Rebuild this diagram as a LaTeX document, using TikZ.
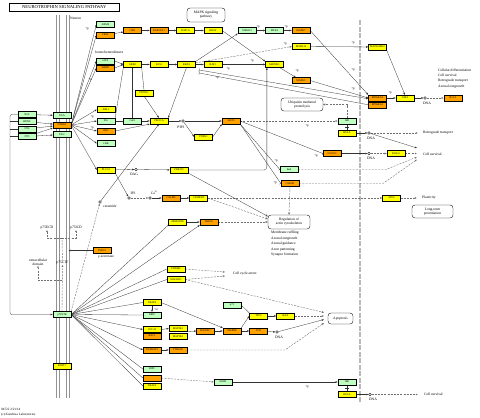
\documentclass[tikz,border=0pt]{standalone}
\usepackage{fontspec}
\setmainfont{Liberation Serif}
\usetikzlibrary{arrows.meta,calc}
\definecolor{kg}{HTML}{BFFFBF}
\definecolor{ky}{HTML}{FFFF00}
\definecolor{ko}{HTML}{FFA200}
\definecolor{kl}{HTML}{333333}
\definecolor{kd}{HTML}{707070}
\newcommand\kbf{\fontsize{2.7}{3}\selectfont}
\newcommand\klf{\fontsize{3.6}{4.1}\selectfont}
\newcommand\kpf{\fontsize{3.2}{3.6}\selectfont}
\pgfdeclarelayer{bg}
\pgfsetlayers{bg,main}
\tikzset{
 kb/.style={draw=black, line width=0.3pt, minimum width=18pt, minimum height=5.8pt, inner sep=0pt, font=\kbf},
 gb/.style={kb, fill=kg},
 yb/.style={kb, fill=ky},
 ob/.style={kb, fill=ko},
 ln/.style={draw=kl, line width=0.3pt},
 ar/.style={ln, -{Latex[length=2.2pt,width=1.8pt]}},
 ds/.style={draw=kd, line width=0.4pt, dash pattern=on 2pt off 1.2pt},
 dar/.style={ds, -{Latex[length=2.2pt,width=1.8pt]}},
 oar/.style={-{Triangle[open,length=2.2pt,width=2pt]}},
 tb/.style={ln, -{Bar[width=3pt]}},
 cir/.style={circle, draw=black, line width=0.3pt, fill=white, minimum size=2.8pt, inner sep=0pt},
 rb/.style={draw=black, line width=0.35pt, rounded corners=3pt, align=center, font=\klf, inner sep=0.5pt},
 lab/.style={font=\klf, inner sep=0pt, align=left},
 pp/.style={font=\kpf, inner sep=0pt},
}
\begin{document}
\begin{tikzpicture}[x=1pt,y=-1pt]
\useasboundingbox (0,0) rectangle (480,418);

% ---------------- title & labels
\node[draw, line width=0.4pt, minimum width=110pt, minimum height=8pt, inner sep=0pt, font=\fontsize{4.6}{5}\selectfont] (title) at (64.3,6.7) {NEUROTROPHIN SIGNALING PATHWAY};
\node[lab, anchor=west] (neuron) at (70,18) {Neuron};
\node[lab, anchor=west] (homo) at (95,52) {homo/heterodimers};

% ---------------- nodes
\node[gb] (NGF) at (27,114.5) {NGF};
\node[gb] (BDNF) at (27,121.5) {BDNF};
\node[gb] (NT4) at (27,129) {NT4};
\node[gb] (NT3) at (27,136.5) {NT3};
\node[gb] (TrkA) at (62,115.5) {TrkA};
\node[ob] (NTRK2) at (62,125) {NTRK2};
\node[gb] (TrkC) at (62,134.5) {TrkC};
\node[gb] (p75NTR) at (62,314.5) {p75NTR};
\node[yb] (SORT1) at (62,366) {SORT1};

\node[gb] (ARMS) at (105.5,24.5) {ARMS};
\node[ob] (FRS2) at (105.5,35) {FRS2};
\node[ob] (CRK) at (132.5,30.5) {CRK};
\node[ob] (RAPGEF1) at (159,30.5) {RAPGEF1};
\node[yb] (RAP1A) at (185.5,30.5) {RAP1A};
\node[yb] (BRAF) at (213,30.5) {BRAF};
\node[gb] (MEKK3) at (247,30.5) {MEKK3};
\node[gb] (MEK5) at (274.5,30.5) {MEK5};
\node[ob] (MAPK7) at (301,30.5) {MAPK7};
\node[yb] (MAPK14) at (301,46.5) {MAPK14};
\node[yb] (MAPKAPK2) at (377.5,47) {MAPKAPK2};
\node[gb] (rAPS) at (105.5,61) {rAPS};
\node[ob] (SH2B1) at (105.5,68) {SH2B1};
\node[yb] (GRB2) at (132.5,64.5) {GRB2};
\node[yb] (SOS1) at (159,64.5) {SOS1};
\node[yb] (KRAS) at (186.5,64.5) {KRAS};
\node[yb] (RAF1) at (213,64.5) {RAF1};
\node[yb] (MAP2K1) at (274.5,64.5) {MAP2K1};
\node[ob] (MAPK3) at (301,80.5) {MAPK3};
\node[ob] (RSKa) at (377.5,98) {RPS6KA3};
\node[ob] (RSKb) at (377.5,104.8) {RPS6KA1};
\node[yb] (ATF4a) at (405,98) {ATF4};
\node[cir] (DNA1) at (425,98) {};
\node[ob] (BCL2) at (453,98) {BCL2};

\node[yb] (PTPN11) at (144,93) {PTPN11};
\node[yb] (ABL1) at (106,109.5) {ABL1};
\node[gb] (Shc) at (106,121) {Shc};
\node[gb] (Gab1) at (132.5,121) {Gab1};
\node[yb] (PIK3CA) at (159,121) {PIK3CA};
\node[cir] (PIP3) at (183,121) {};
\node[ob] (AKT3) at (231,121) {AKT3};
\node[yb] (PDPK1) at (203.5,137) {PDPK1};
\node[ob] (IRS1) at (106,131) {IRS1};
\node[gb] (CHK) at (106,143.5) {CHK};
\node[yb] (PLCG1) at (106,170) {PLCG1};
\node[cir] (DAG) at (136,169.5) {};
\node[yb] (PRKCD) at (179,170) {PRKCD};
\node[gb] (IkB) at (347,121) {IkB};
\node[yb] (RELA) at (347,133) {RELA};
\node[cir] (DNA2) at (369,133) {};
\node[ob] (FOXO3) at (332,153.5) {FOXO3};
\node[cir] (DNA3) at (369,153.5) {};
\node[yb] (FASLG) at (396,153.5) {FASLG};
\node[gb] (Bad) at (289,169.5) {Bad};
\node[ob] (GSK3B) at (290,183.5) {GSK3B};
\node[cir] (IP3) at (129,198) {};
\node[cir] (Ca) at (150,198) {};
\node[ob] (CALM3) at (171,198) {CALM3};
\node[yb] (CAMK2D) at (198.5,198) {CAMK2D};
\node[yb] (ATF4b) at (391.5,198) {ATF4};
\node[cir] (cer) at (100,202) {};
\node[yb] (ARHGDIA) at (177.5,222) {ARHGDIA};
\node[ob] (RHOA) at (209,222) {RHOA};
\node[ob] (PSEN1) at (102,250.5) {PSEN1};
\node[yb] (PRDM4) at (176,269) {PRDM4};
\node[yb] (MAGED1) at (176,279.5) {MAGED1};
\node[yb] (TRAF6a) at (152,302.5) {TRAF6};
\node[gb] (p73) at (232,305) {p73};
\node[gb] (NRIF) at (152,315) {NRIF};
\node[yb] (TP53) at (258.5,316) {TP53};
\node[yb] (BAX) at (285.5,316) {BAX};
\node[yb] (CDC42) at (152,329.5) {CDC42};
\node[ob] (RAC1) at (152,336) {RAC1};
\node[yb] (MAP3K1) at (178,328.5) {MAP3K1};
\node[yb] (MAP3K5) at (178,336.3) {MAP3K5};
\node[ob] (MAP2K7) at (205.5,331) {MAP2K7};
\node[ob] (MAPK8) at (232,331) {MAPK8};
\node[ob] (JUN) at (258.5,331) {JUN};
\node[cir] (DNA4) at (277,332) {};
\node[ob] (NGFRAP1) at (152,350) {NGFRAP1};
\node[ob] (YWHAE) at (178,350) {YWHAE};
\node[gb] (RIP2) at (152,369) {RIP2};
\node[ob] (blank) at (152,378) {};
\node[yb] (TRAF6b) at (152,386) {TRAF6};
\node[gb] (IKKB) at (223,382) {IKKB};
\node[gb] (IkBb) at (347,382) {IkB};
\node[yb] (RELAb) at (347,394.5) {RELA};
\node[cir] (DNA5) at (370,394.5) {};

% rounded boxes
\node[rb, minimum width=38pt, minimum height=14pt] (MAPKsp) at (206,15) {MAPK signaling\\pathway};
\node[rb, minimum width=42pt, minimum height=13pt] (Ubq) at (302,104.5) {Ubiquitin mediated\\proteolysis};
\node[rb, minimum width=42pt, minimum height=14pt] (Reg) at (289,222) {Regulation of\\actin cytoskeleton};
\node[rb, minimum width=41pt, minimum height=13pt] (LTP) at (432.5,211.5) {Long-term\\potentiation};
\node[rb, minimum width=25pt, minimum height=11pt] (Apo) at (340.5,318.5) {Apoptosis};

% text labels
\node[lab, anchor=west] (t1) at (438,70) {Cellular differentiation};
\node[lab, anchor=west] (t2) at (438,75.5) {Cell survival};
\node[lab, anchor=west] (t3) at (438,81) {Retrograde transport};
\node[lab, anchor=west] (t4) at (438,86.5) {Axonal outgrowth};
\node[lab, anchor=west] (retro) at (423,133) {Retrograde transport};
\node[lab, anchor=west] (surv1) at (423,154) {Cell survival};
\node[lab, anchor=west] (plast) at (422,198) {Plasticity};
\node[lab, anchor=west] (cca) at (233,274) {Cell cycle arrest};
\node[lab, anchor=west] (surv2) at (424,394.5) {Cell survival};
\node[lab, anchor=west] (r1) at (271,233) {Membrane ruffling};
\node[lab, anchor=west] (r2) at (271,238.5) {Axonal outgrowth};
\node[lab, anchor=west] (r3) at (271,244) {Axonal guidance};
\node[lab, anchor=west] (r4) at (271,249.5) {Axon patterning};
\node[lab, anchor=west] (r5) at (271,255) {Synapse formation};
\node[lab] (lDNA1) at (427,103.5) {DNA};
\node[lab] (lDNA2) at (371,138.5) {DNA};
\node[lab] (lDNA3) at (371,158.5) {DNA};
\node[lab] (lDNA4) at (279,337) {DNA};
\node[lab] (lDNA5) at (373,399.5) {DNA};
\node[lab] (lPIP3) at (181,127) {PIP3};
\node[lab] (lDAG) at (134,174.5) {DAG};
\node[lab] (lIP3) at (133,193) {IP3};
\node[lab] (lCa) at (154.5,193) {Ca\textsuperscript{2+}};
\node[lab, anchor=west] (lcer) at (103,206) {ceramide};
\node[lab] (lgam) at (106,257) {γ-secretase};
\node[lab] (lecd) at (47,228) {p75ECD};
\node[lab] (licd) at (76,228) {p75ICD};
\node[lab] (lctf) at (62.5,263) {p75CTF};
\node[lab, align=center] (lext) at (38,262) {extracellular\\domain};
\node[font=\fontsize{3.3}{3.8}\selectfont, inner sep=0pt, anchor=west] (foot1) at (1,409.5) {04722 2/21/14};
\node[font=\fontsize{3.3}{3.8}\selectfont, inner sep=0pt, anchor=west] (foot2) at (1,414.5) {(c) Kanehisa Laboratories};

% +p labels
\foreach \px/\py in {87/29,90/80,92/117,92/128,258/27,286/27,285/44,252/61,297/71,228/69,217/78,307/126,353/43,353/70,353/89,390/93,276/161,275/183,316/156,307/387}
  \node[pp] at (\px,\py) {+p};
\node[pp] (plu) at (156,310) {+u};

% free coordinates
\coordinate (rt) at (418,133);
\coordinate (cs1) at (417,148);
\coordinate (cs2) at (417,153.5);
\coordinate (cs3) at (417,157);
\coordinate (cs4) at (417,159.5);
\coordinate (plx) at (417,198);
\coordinate (cc1) at (225,272);
\coordinate (cc2) at (225,276);
\coordinate (ap1) at (324,312.5);
\coordinate (ap2) at (324,316);
\coordinate (ap3) at (324,319.5);
\coordinate (ap4) at (324,323);
\coordinate (cs5) at (418,394.5);
\coordinate (pse) at (68.5,250.5);
\coordinate (j1) at (62,280.5);
\coordinate (j3) at (62,238);
\coordinate (kb1) at (199,70);
\coordinate (kb2) at (199,73);

\begin{pgfonlayer}{bg}
\fill[white] (0,0) rectangle (480,418);
\foreach \xx in {56.8,59.2,66.8,69.2} \draw[gray!85, line width=0.8pt] (\xx,15) -- (\xx,398);
\draw[gray!55, line width=1.8pt, dash pattern=on 5pt off 1.5pt] (360,20) -- (360,402);

% neurotrophins
\draw[ar] (NGF) -- (TrkA);
\draw[ar] (BDNF) -- (NTRK2);
\draw[ar] (NT4) -- (NTRK2);
\draw[ar] (NT3) -- (TrkC);
\draw[ar] (NT3) -- (NTRK2);
\draw[ar, rounded corners=2pt] (NGF.west) -- (10,114.5) -- (10,314.5) -- (p75NTR.west);
\draw[ln] (BDNF.west) -- (10,121.5);
\draw[ln] (NT4.west) -- (10,129);
\draw[ln] (NT3.west) -- (10,136.5);

% Trk fan
\foreach \t in {ARMS,FRS2,rAPS,SH2B1,ABL1,Shc,IRS1,CHK,PLCG1}
  \draw[ar] (NTRK2.east) -- (\t.west);

% MAPK chain
\draw[ar] (FRS2) -- (CRK);
\draw[ar] (CRK) -- (RAPGEF1);
\draw[ar] (RAPGEF1) -- (RAP1A);
\draw[ar] (RAP1A) -- (BRAF);
\draw[ar] (BRAF.east) -- (MAP2K1.north west);
\draw[ar] (rAPS.east) -- (GRB2.west);
\draw[ar] (SH2B1.east) -- (GRB2.west);
\draw[ar] (GRB2) -- (SOS1);
\draw[ar] (SOS1) -- (KRAS);
\draw[ar] (KRAS) -- (RAF1);
\draw[ar] (RAF1) -- (MAP2K1);
\draw[ar] (KRAS.north east) -- (MEKK3.south west);
\draw[ar] (MEKK3) -- (MEK5);
\draw[ar] (MEK5) -- (MAPK7);
\draw[dar] (KRAS.10) -- (MAPK14.west);
\draw[ar] (MAP2K1) -- (MAPK3);
\draw[ar] (MAPK3.east) -- (RSKa.west);
\draw[ar] (MAPK7.east) -- (RSKa.north west);
\draw[ar] (MAPK14) -- (MAPKAPK2);
\draw[ar] (MAPKAPK2.south east) -- (ATF4a.north);
\draw[ar] (RSKa.east) -- (ATF4a.west);
\draw[ar] (ATF4a) -- (DNA1);
\draw[dar] (DNA1) -- (BCL2);
\draw[ln, {Bar[width=3pt]}-{Latex[length=2.2pt,width=1.8pt]}] (kb1) -- (RSKa.185);
\draw[ln, {Bar[width=3pt]}-] (kb2) -- (RSKb.west);

% PI3K / AKT
\draw[ln] (Shc.north east) -- (GRB2.south west);
\draw[ln] (Gab1.north) -- (GRB2.south);
\draw[ln] (Shc) -- (Gab1);
\draw[ln] (GRB2.south east) -- (PTPN11.north);
\draw[ar] (PTPN11.south) -- (PIK3CA.north);
\draw[ar] (Gab1) -- (PIK3CA);
\draw[ar] (IRS1.east) -- (PIK3CA.south west);
\draw[ar] (KRAS.south) -- (PIK3CA.north east);
\draw[ar] (cer) -- (PIK3CA.south);
\draw[ar] (PIK3CA) -- (PIP3);
\draw[ar] (PIP3) -- (AKT3);
\draw[ar] (PIP3) -- (PDPK1.west);
\draw[ar] (PDPK1.east) -- (AKT3.south west);
\draw[dar] (AKT3) -- (IkB);
\draw[tb] (AKT3.east) -- (FOXO3.west);
\draw[tb] (AKT3.south east) -- (Bad.west);
\draw[tb] (AKT3.south east) -- (GSK3B.west);
\draw[ds, oar] (IkB.north) |- (Ubq.east);
\draw[ln] (IkB) -- (RELA);
\draw[ln] ($(IkB.south)!0.5!(RELA.north)+(-2,0)$) -- ++(4,0);
\draw[ar] (RELA) -- (DNA2);
\draw[dar] (DNA2) -- (rt);
\draw[ar] (DNA2) -- (cs1);
\draw[ar] (FOXO3) -- (DNA3);
\draw[dar] (DNA3) -- (FASLG);
\draw[dar] (FASLG) -- (cs2);
\draw[dar] (Bad.east) -- (386,169.5) -- (cs3);
\draw[dar] (GSK3B.east) -- (383,183.5) -- (cs4);
\draw[ds, oar] (GSK3B.south) -- (Reg.north);

% PLC
\draw[ar] (PLCG1) -- (DAG);
\draw[ar] (DAG) -- (PRKCD);
\draw[ar] (PLCG1.south east) -- (IP3);
\draw[dar] (IP3) -- (Ca);
\draw[ar] (Ca) -- (CALM3);
\draw[ar] (CALM3) -- (CAMK2D);
\draw[dar] (CAMK2D) -- (ATF4b);
\draw[dar] (ATF4b) -- (plx);
\draw[ds, oar] (CAMK2D.east) -- (Reg.172);
\draw[ln, oar] (PRKCD.south east) -- (Reg.165);
\draw[ar, rounded corners=3pt] (PRKCD.east) -| ([xshift=1.5pt]MAP2K1.south west);

% p75NTR
\draw[dar] (p75NTR.north east) -- (cer);
\draw[ln] (p75NTR.east) -- (ARHGDIA.south west);
\draw[ar] (p75NTR.east) -- (RHOA.south west);
\draw[ar] (ARHGDIA) -- (RHOA);
\draw[ds, oar] (RHOA) -- (Reg.180);
\foreach \t in {PRDM4,MAGED1,TRAF6a,NRIF,RIP2,blank,TRAF6b}
  \draw[ln] (p75NTR.east) -- (\t.west);
\draw[ar] (p75NTR.east) -- (CDC42.west);
\draw[ar] (p75NTR.east) -- (NGFRAP1.west);
\draw[ds, oar] (PRDM4.east) -- (cc1);
\draw[ds, oar] (MAGED1.east) -- (cc2);
\draw[ds, oar] (MAGED1.east) -- (ap1);
\draw[ar] (TRAF6a) -- (NRIF);
\draw[ar] (TRAF6a.east) -- (MAPK8.north west);
\draw[ar] (CDC42.east) -- (MAP3K1.west);
\draw[ar] (MAP3K1.south east) -- (MAP2K7.west);
\draw[ar] (MAP2K7) -- (MAPK8);
\draw[ar] (MAPK8) -- (JUN);
\draw[ar] (JUN) -- (DNA4);
\draw[ar] (MAPK8.north east) -- (TP53.west);
\draw[ln] (p73.east) -- (TP53.north west);
\draw[ar] (TP53) -- (BAX);
\draw[ds, oar] (BAX) -- (ap2);
\draw[ln, oar] (DNA4) -- (ap3);
\draw[ar] (NGFRAP1) -- (YWHAE);
\draw[ds, oar] (YWHAE.east) -- (285,350) -- (ap4);
\draw[dar] (blank.east) -- (IKKB.west);
\draw[ar] (IKKB) -- (IkBb);
\draw[ln] (IkBb) -- (RELAb);
\draw[ln] ($(IkBb.south)!0.5!(RELAb.north)+(-2,0)$) -- ++(4,0);
\draw[ar] (RELAb) -- (DNA5);
\draw[dar] (DNA5) -- (cs5);

% cleavage
\draw[dar] (p75NTR.north) -- (lctf.south);
\draw[dar] (j1) -| (lext.south);
\draw[ds] (lctf.north) -- (j3);
\draw[dar] (j3) -| (lecd.south);
\draw[dar] (j3) -| (licd.south);
\draw[ar] (PSEN1.west) -- (pse);
\end{pgfonlayer}
\end{tikzpicture}
\end{document}
